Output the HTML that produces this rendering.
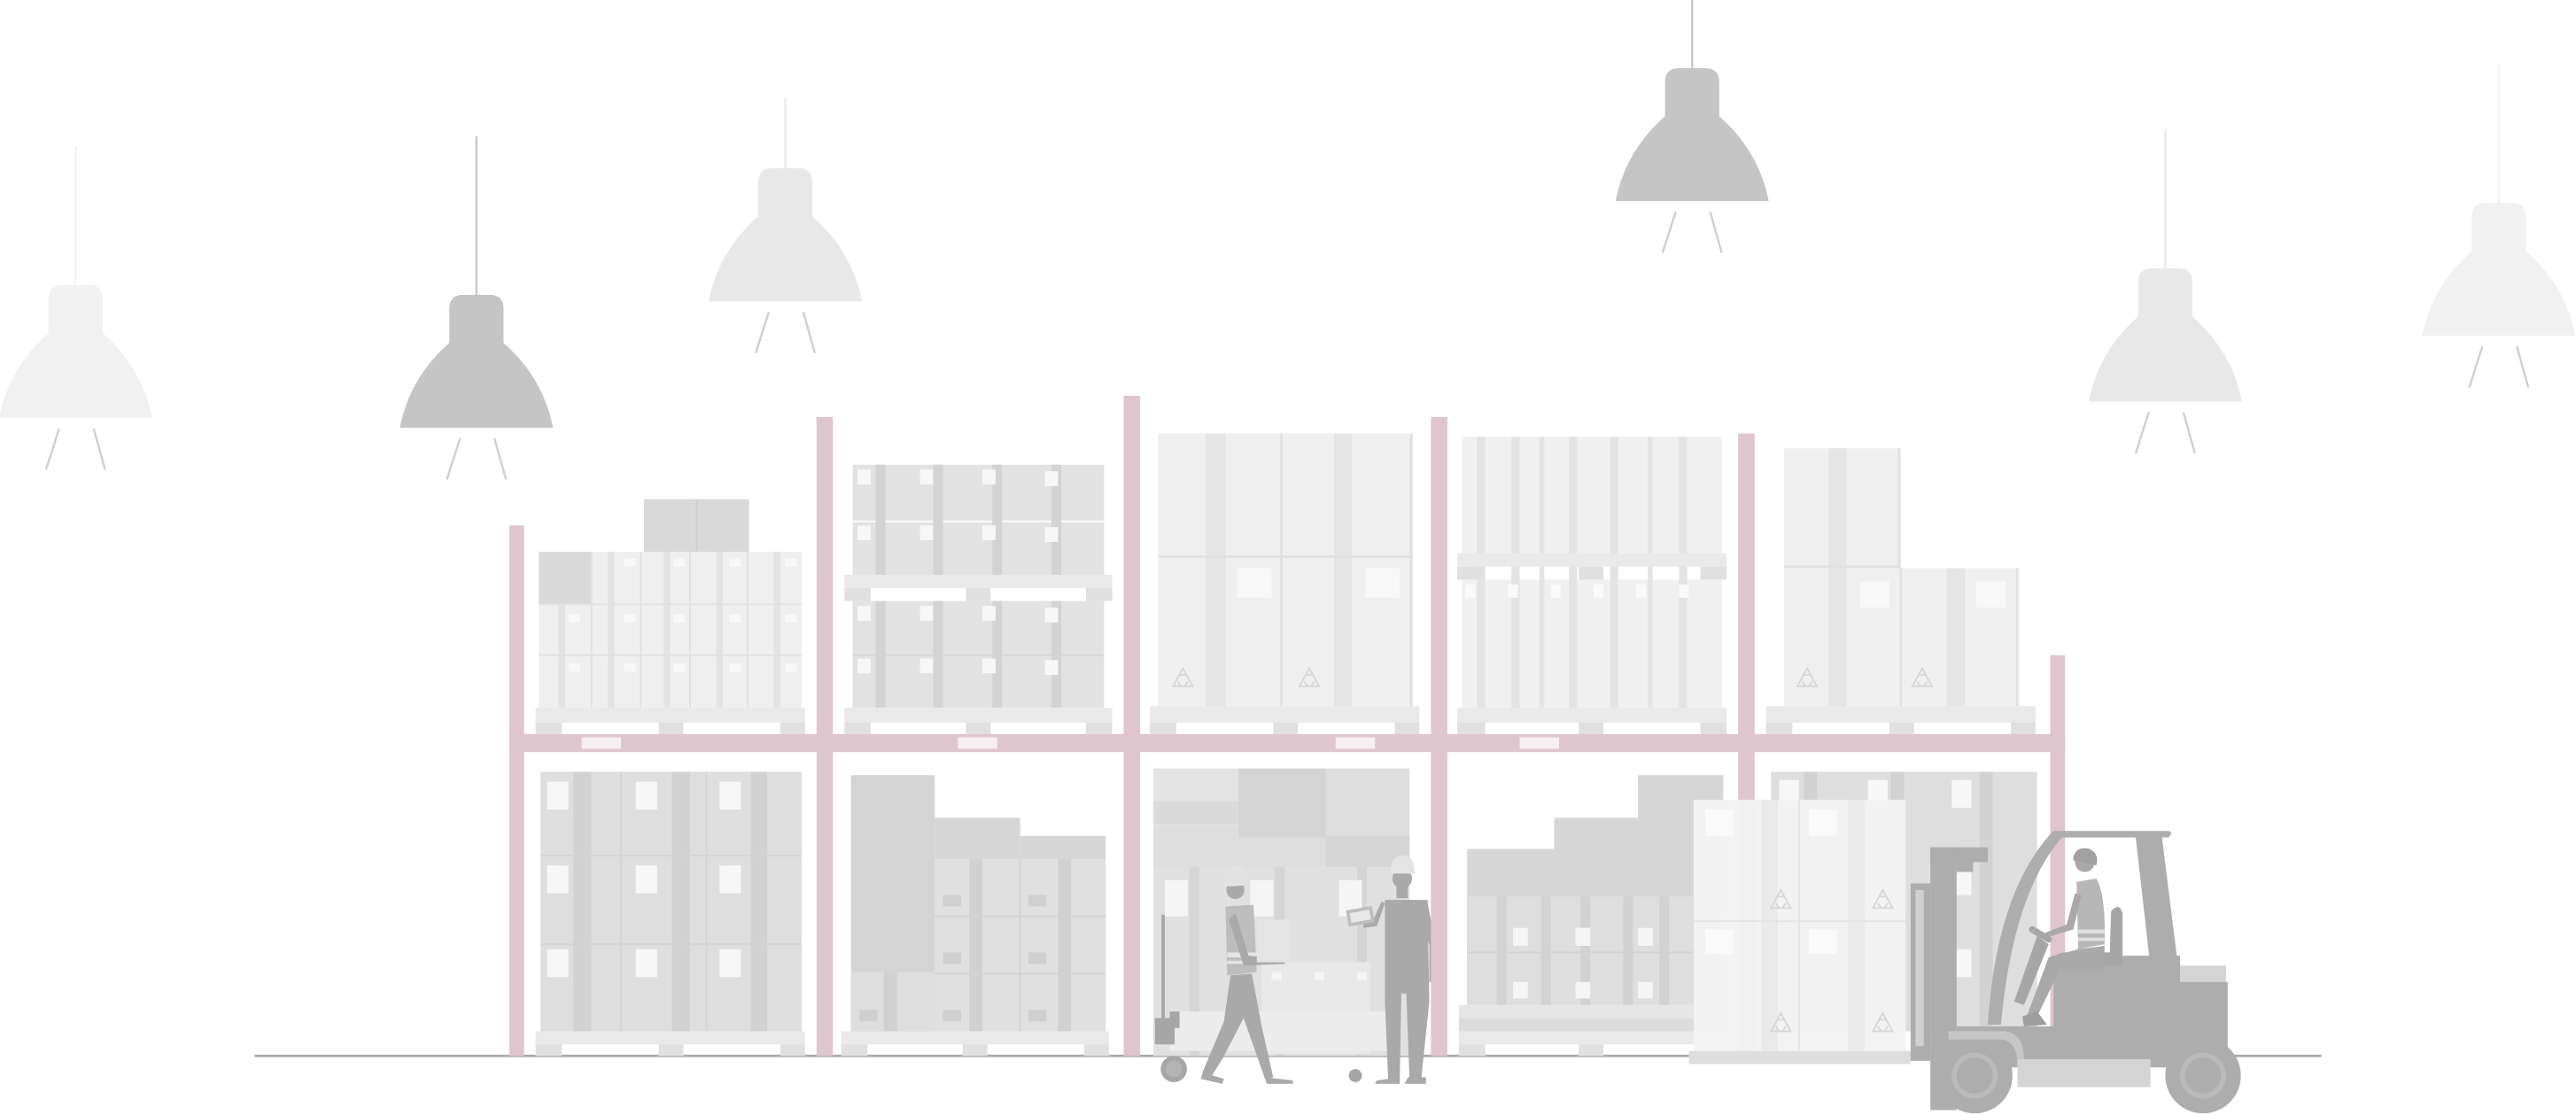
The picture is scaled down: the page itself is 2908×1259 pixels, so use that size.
<!DOCTYPE html>
<html><head><meta charset="utf-8"><style>html,body{margin:0;padding:0;background:#fff}svg{display:block}</style></head>
<body>
<svg width="2908" height="1259" viewBox="0 0 1568 679" preserveAspectRatio="none" xmlns="http://www.w3.org/2000/svg">
<defs>
<g id="lamp">
<line x1="0" y1="-400" x2="0" y2="-78" stroke-width="1.2"/>
<path d="M-16,-51 L-16,-72 Q-16,-80 -8,-80 L8,-80 Q16,-80 16,-72 L16,-51 Q40,-30 46,0 L-46,0 Q-40,-30 -16,-51 Z"/>
<line x1="-10" y1="7" x2="-18" y2="32" stroke="#cfcfcf" stroke-width="1.3"/>
<line x1="11" y1="7" x2="18" y2="32" stroke="#cfcfcf" stroke-width="1.3"/>
</g>
<g id="rec" fill="none" stroke="#d6d6d6" stroke-width="1">
<path d="M0,-7 L-6,4 L6,4 Z"/><path d="M-2,-3 L2,-3 M-3,1 L-1,4 M3,1 L1,4"/>
</g>
</defs>
<rect width="1568" height="679" fill="#fff"/>
<g fill="#f1f1f1" stroke="#f1f1f1"><use href="#lamp" x="46" y="254"/></g>
<g fill="#c5c5c5" stroke="#c5c5c5"><use href="#lamp" x="290" y="260"/></g>
<g fill="#e8e8e8" stroke="#e8e8e8"><use href="#lamp" x="478" y="183"/></g>
<g fill="#c5c5c5" stroke="#c5c5c5"><use href="#lamp" x="1030" y="122"/></g>
<g fill="#e8e8e8" stroke="#e8e8e8"><use href="#lamp" x="1318" y="244"/></g>
<g fill="#f1f1f1" stroke="#f1f1f1"><use href="#lamp" x="1521" y="204"/></g>
<g fill="#fff"><rect x="40" y="0" width="12" height="89"/><rect x="284" y="0" width="12" height="83"/><rect x="472" y="0" width="12" height="59"/><rect x="1312" y="0" width="12" height="79"/><rect x="1515" y="0" width="12" height="39"/></g>

<line x1="155" y1="643" x2="1413" y2="643" stroke="#aaaaaa" stroke-width="1.5"/>

<!-- UPPER BAY 1 -->
<rect x="392" y="304" width="64" height="32" fill="#d9d9d9"/><line x1="424" y1="304" x2="424" y2="336" stroke="#d0d0d0"/>
<rect x="328" y="336" width="160" height="95" fill="#efefef"/>
<rect x="328" y="336" width="32" height="32" fill="#d9d9d9"/>
<g fill="#e2e2e2"><rect x="340" y="368" width="4" height="63"/><rect x="370" y="336" width="4" height="95"/><rect x="404" y="336" width="4" height="95"/><rect x="436" y="336" width="4" height="95"/><rect x="471" y="336" width="4" height="95"/></g>
<g stroke="#e0e0e0"><line x1="328" y1="368" x2="488" y2="368"/><line x1="328" y1="399" x2="488" y2="399"/><line x1="360" y1="336" x2="360" y2="431"/><line x1="390" y1="336" x2="390" y2="431"/><line x1="420" y1="336" x2="420" y2="431"/><line x1="455" y1="336" x2="455" y2="431"/></g>
<g fill="#f8f8f8"><rect x="380" y="340" width="7" height="5"/><rect x="410" y="340" width="7" height="5"/><rect x="444" y="340" width="7" height="5"/><rect x="346" y="374" width="7" height="5"/><rect x="380" y="374" width="7" height="5"/><rect x="410" y="374" width="7" height="5"/><rect x="444" y="374" width="7" height="5"/><rect x="478" y="374" width="7" height="5"/><rect x="346" y="404" width="7" height="5"/><rect x="380" y="404" width="7" height="5"/><rect x="410" y="404" width="7" height="5"/><rect x="444" y="404" width="7" height="5"/><rect x="478" y="404" width="7" height="5"/><rect x="478" y="340" width="7" height="5"/></g>
<rect x="326" y="431" width="164" height="9" fill="#e9e9e9"/>
<g fill="#e0e0e0"><rect x="326" y="440" width="16" height="7"/><rect x="401" y="440" width="15" height="7"/><rect x="475" y="440" width="15" height="7"/></g>

<!-- UPPER BAY 2 -->
<rect x="519" y="283" width="153" height="67" fill="#e2e2e2"/>
<rect x="519" y="366" width="153" height="65" fill="#e2e2e2"/>
<line x1="519" y1="317.5" x2="672" y2="317.5" stroke="#fafafa" stroke-width="1.2"/>
<line x1="519" y1="399" x2="672" y2="399" stroke="#d8d8d8"/>
<g fill="#d3d3d3"><rect x="533" y="283" width="6" height="67"/><rect x="568" y="283" width="6" height="67"/><rect x="604" y="283" width="6" height="67"/><rect x="640" y="283" width="6" height="67"/><rect x="533" y="366" width="6" height="65"/><rect x="568" y="366" width="6" height="65"/><rect x="604" y="366" width="6" height="65"/><rect x="640" y="366" width="6" height="65"/></g>
<g fill="#f7f7f7"><rect x="522" y="286" width="8" height="9"/><rect x="560" y="286" width="8" height="9"/><rect x="598" y="286" width="8" height="9"/><rect x="636" y="287" width="8" height="9"/><rect x="522" y="320" width="8" height="9"/><rect x="560" y="320" width="8" height="9"/><rect x="598" y="320" width="8" height="9"/><rect x="636" y="321" width="8" height="9"/><rect x="522" y="369" width="8" height="9"/><rect x="560" y="369" width="8" height="9"/><rect x="598" y="369" width="8" height="9"/><rect x="636" y="370" width="8" height="9"/><rect x="522" y="401" width="8" height="9"/><rect x="560" y="401" width="8" height="9"/><rect x="598" y="401" width="8" height="9"/><rect x="636" y="402" width="8" height="9"/></g>
<rect x="514" y="350" width="163" height="8" fill="#e9e9e9"/>
<g fill="#e0e0e0"><rect x="514" y="358" width="16" height="8"/><rect x="588" y="358" width="15" height="8"/><rect x="661" y="358" width="16" height="8"/></g>
<rect x="514" y="431" width="163" height="9" fill="#e9e9e9"/>
<g fill="#e0e0e0"><rect x="514" y="440" width="16" height="7"/><rect x="588" y="440" width="15" height="7"/><rect x="661" y="440" width="16" height="7"/></g>

<!-- UPPER BAY 3 -->
<rect x="705" y="264" width="155" height="166" fill="#efefef"/>
<g fill="#e4e4e4"><rect x="734" y="264" width="12" height="166"/><rect x="812" y="264" width="11" height="166"/></g>
<g stroke="#e0e0e0" stroke-width="1.5"><line x1="705" y1="339" x2="860" y2="339"/><line x1="780" y1="264" x2="780" y2="430"/><line x1="859" y1="264" x2="859" y2="430"/></g>
<g fill="#f8f8f8"><rect x="753" y="346" width="21" height="18"/><rect x="831" y="346" width="21" height="18"/></g>
<use href="#rec" x="720" y="414"/><use href="#rec" x="797" y="414"/>
<rect x="700" y="430" width="164" height="10" fill="#e9e9e9"/>
<g fill="#e0e0e0"><rect x="700" y="440" width="16" height="7"/><rect x="775" y="440" width="15" height="7"/><rect x="849" y="440" width="15" height="7"/></g>

<!-- UPPER BAY 4 -->
<rect x="890" y="266" width="158" height="71" fill="#f0f0f0"/>
<rect x="890" y="353" width="158" height="78" fill="#f0f0f0"/>
<g fill="#e3e3e3"><rect x="899" y="266" width="5" height="165"/><rect x="920" y="266" width="5" height="165"/><rect x="937" y="266" width="3" height="165"/><rect x="955" y="266" width="5" height="165"/><rect x="980" y="266" width="5" height="165"/><rect x="1003" y="266" width="3" height="165"/><rect x="1022" y="266" width="5" height="165"/></g>
<g fill="#fafafa"><rect x="892" y="356" width="6" height="8"/><rect x="918" y="356" width="6" height="8"/><rect x="944" y="356" width="6" height="8"/><rect x="970" y="356" width="6" height="8"/><rect x="996" y="356" width="6" height="8"/><rect x="1022" y="356" width="6" height="8"/></g>
<rect x="887" y="337" width="164" height="8" fill="#e9e9e9"/>
<g fill="#e0e0e0"><rect x="887" y="345" width="17" height="8"/><rect x="961" y="345" width="15" height="8"/><rect x="1035" y="345" width="16" height="8"/></g>
<rect x="887" y="431" width="164" height="9" fill="#e9e9e9"/>
<g fill="#e0e0e0"><rect x="887" y="440" width="17" height="7"/><rect x="961" y="440" width="15" height="7"/><rect x="1035" y="440" width="16" height="7"/></g>

<!-- UPPER BAY 5 -->
<rect x="1086" y="273" width="71" height="157" fill="#efefef"/>
<rect x="1157" y="346" width="71" height="84" fill="#efefef"/>
<g fill="#e4e4e4"><rect x="1113" y="273" width="11" height="157"/><rect x="1185" y="346" width="11" height="84"/></g>
<g stroke="#e0e0e0" stroke-width="1.5"><line x1="1086" y1="345" x2="1157" y2="345"/><line x1="1157" y1="346" x2="1157" y2="430"/><line x1="1228" y1="346" x2="1228" y2="430"/><line x1="1156" y1="273" x2="1156" y2="346"/></g>
<g fill="#f8f8f8"><rect x="1132" y="354" width="18" height="16"/><rect x="1203" y="354" width="18" height="16"/></g>
<use href="#rec" x="1100" y="414"/><use href="#rec" x="1170" y="414"/>
<rect x="1075" y="430" width="164" height="10" fill="#e9e9e9"/>
<g fill="#e0e0e0"><rect x="1075" y="440" width="16" height="7"/><rect x="1150" y="440" width="15" height="7"/><rect x="1224" y="440" width="15" height="7"/></g>

<!-- LOWER BAY 1 -->
<rect x="329" y="470" width="159" height="158" fill="#dedede"/>
<g fill="#d2d2d2"><rect x="349" y="470" width="11" height="158"/><rect x="409" y="470" width="11" height="158"/><rect x="457" y="470" width="10" height="158"/></g>
<g stroke="#d4d4d4"><line x1="329" y1="521" x2="488" y2="521"/><line x1="329" y1="575" x2="488" y2="575"/><line x1="378" y1="470" x2="378" y2="628"/><line x1="430" y1="470" x2="430" y2="628"/></g>
<g fill="#f7f7f7"><rect x="333" y="476" width="13" height="17"/><rect x="387" y="476" width="13" height="17"/><rect x="438" y="476" width="13" height="17"/><rect x="333" y="527" width="13" height="17"/><rect x="387" y="527" width="13" height="17"/><rect x="438" y="527" width="13" height="17"/><rect x="333" y="578" width="13" height="17"/><rect x="387" y="578" width="13" height="17"/><rect x="438" y="578" width="13" height="17"/></g>
<rect x="326" y="628" width="164" height="8" fill="#e9e9e9"/>
<g fill="#e0e0e0"><rect x="326" y="636" width="16" height="7"/><rect x="401" y="636" width="15" height="7"/><rect x="475" y="636" width="15" height="7"/></g>

<!-- LOWER BAY 2 -->
<rect x="518" y="472" width="51" height="156" fill="#d4d4d4"/>
<rect x="569" y="498" width="52" height="130" fill="#d6d6d6"/>
<rect x="621" y="509" width="52" height="119" fill="#d6d6d6"/>
<rect x="569" y="523" width="104" height="105" fill="#e0e0e0"/>
<rect x="518" y="592" width="51" height="36" fill="#dedede"/>
<g fill="#d0d0d0"><rect x="538" y="592" width="8" height="36"/><rect x="590" y="523" width="8" height="105"/><rect x="644" y="523" width="8" height="105"/></g>
<g stroke="#d2d2d2"><line x1="569" y1="558" x2="673" y2="558"/><line x1="569" y1="593" x2="673" y2="593"/><line x1="621" y1="523" x2="621" y2="628"/></g>
<g fill="#cfcfcf"><rect x="574" y="545" width="11" height="7"/><rect x="626" y="545" width="11" height="7"/><rect x="574" y="580" width="11" height="7"/><rect x="626" y="580" width="11" height="7"/><rect x="523" y="615" width="11" height="7"/><rect x="574" y="615" width="11" height="7"/><rect x="626" y="615" width="11" height="7"/></g>
<rect x="512" y="628" width="163" height="8" fill="#e9e9e9"/>
<g fill="#e0e0e0"><rect x="512" y="636" width="16" height="7"/><rect x="586" y="636" width="15" height="7"/><rect x="660" y="636" width="15" height="7"/></g>

<!-- LOWER BAY 3 -->
<rect x="702" y="468" width="156" height="60" fill="#dedede"/>
<rect x="702" y="468" width="52" height="35" fill="#e3e3e3"/>
<rect x="702" y="488" width="52" height="14" fill="#dadada"/>
<rect x="754" y="468" width="53" height="42" fill="#d4d4d4"/>
<rect x="807" y="509" width="51" height="20" fill="#d6d6d6"/>
<rect x="702" y="528" width="156" height="115" fill="#e0e0e0"/>
<g fill="#d5d5d5"><rect x="724" y="528" width="6" height="115"/><rect x="776" y="528" width="6" height="115"/><rect x="826" y="528" width="6" height="115"/></g>
<g fill="#f5f5f5"><rect x="709" y="536" width="14" height="22"/><rect x="761" y="536" width="14" height="22"/><rect x="815" y="536" width="14" height="22"/></g>
<rect x="768" y="586" width="66" height="56" fill="#e8e8e8"/>
<g fill="#f5f5f5"><rect x="774" y="592" width="6" height="5"/><rect x="800" y="592" width="6" height="5"/><rect x="826" y="592" width="6" height="5"/><rect x="774" y="618" width="6" height="5"/><rect x="800" y="618" width="6" height="5"/></g>
<rect x="712" y="616" width="134" height="24" fill="#ececec"/>
<line x1="708" y1="557" x2="708" y2="630" stroke="#a6a6a6" stroke-width="2"/>
<rect x="703" y="620" width="12" height="16" fill="#a6a6a6"/>
<rect x="712" y="616" width="6" height="10" fill="#a6a6a6"/>
<circle cx="714.5" cy="651" r="8" fill="#a6a6a6"/><circle cx="714.5" cy="651" r="5" fill="#b4b4b4"/>
<circle cx="825" cy="655" r="4" fill="#a6a6a6"/>
<!-- worker 1 -->
<g fill="#a9a9a9">
<circle cx="752" cy="542" r="5.5"/>
<path d="M746,552 L763,551 L765,592 L747,594 Z" fill="#bdbdbd"/>
<rect x="747" y="580" width="18" height="3" fill="#e4e4e4"/>
<rect x="747" y="585" width="18" height="2" fill="#e4e4e4"/>
<path d="M749,594 L762,593 L768,625 L775,656 L770,657 L757,620 L744,645 L737,656 L732,653 L745,622 Z"/>
<path d="M770,656 L787,658 L787,660 L771,660 Z"/><path d="M732,653 L745,657 L744,660 L731,657 Z"/>
<path d="M752,556 L760,582 L782,584 L782,587 L757,588 L748,560 Z"/>
</g>
<path d="M745,539 Q746,527 753,527 Q760,527 760,538 L762,539 L744,540 Z" fill="#e2e2e2"/>
<rect x="765" y="560" width="20" height="26" fill="#e4e4e4"/>
<!-- worker 2 -->
<g fill="#a9a9a9">
<circle cx="853.5" cy="535" r="6"/>
<rect x="850" y="539" width="7" height="8"/>
<path d="M843,548 L869,548 L870,610 L865,658 L858,658 L856,605 L853,605 L852,658 L845,658 L843,610 Z"/>
<path d="M838,658 L852,656 L852,660 L837,660 Z"/><path d="M857,656 L868,656 L868,660 L855,660 Z"/>
<path d="M869,550 L874,576 L872,598 L870,598 L870,576 L866,555 Z"/>
<path d="M843,550 L838,564 L830,565 L830,561 L836,560 L841,549 Z"/>
</g>
<path d="M846,531 Q847,521 854,521 Q861,521 861,531 L863,532 L845,532 Z" fill="#e4e4e4"/>
<rect x="820" y="553" width="16" height="10" fill="#bdbdbd" transform="rotate(-10 828 558)"/>
<rect x="822" y="555" width="12" height="6" fill="#e8e8e8" transform="rotate(-10 828 558)"/>

<!-- LOWER BAY 4 -->
<rect x="893" y="517" width="53" height="95" fill="#d6d6d6"/>
<rect x="946" y="498" width="51" height="114" fill="#d6d6d6"/>
<rect x="997" y="472" width="52" height="140" fill="#d6d6d6"/>
<rect x="893" y="546" width="156" height="66" fill="#dedede"/>
<g fill="#d2d2d2"><rect x="911" y="546" width="6" height="66"/><rect x="938" y="546" width="6" height="66"/><rect x="962" y="546" width="6" height="66"/><rect x="988" y="546" width="6" height="66"/><rect x="1010" y="546" width="6" height="66"/></g>
<line x1="893" y1="580" x2="1049" y2="580" stroke="#d2d2d2"/>
<g fill="#f5f5f5"><rect x="921" y="565" width="9" height="11"/><rect x="959" y="565" width="9" height="11"/><rect x="997" y="565" width="9" height="11"/><rect x="921" y="598" width="9" height="10"/><rect x="959" y="598" width="9" height="10"/><rect x="997" y="598" width="9" height="10"/></g>
<rect x="888" y="612" width="163" height="8" fill="#e6e6e6"/>
<rect x="888" y="620" width="163" height="8" fill="#dcdcdc"/>
<rect x="888" y="628" width="163" height="8" fill="#e9e9e9"/>
<g fill="#e0e0e0"><rect x="888" y="636" width="16" height="7"/><rect x="961" y="636" width="15" height="7"/></g>

<!-- LOWER BAY 5 -->
<rect x="1078" y="470" width="162" height="158" fill="#dedede"/>
<g fill="#d2d2d2"><rect x="1098" y="470" width="8" height="158"/><rect x="1151" y="470" width="8" height="158"/><rect x="1205" y="470" width="8" height="158"/></g>
<g fill="#f7f7f7"><rect x="1083" y="475" width="12" height="17"/><rect x="1137" y="475" width="12" height="17"/><rect x="1188" y="475" width="12" height="17"/><rect x="1188" y="528" width="12" height="17"/><rect x="1188" y="578" width="12" height="17"/></g>

<!-- RACK -->
<g fill="#dfc5ce">
<rect x="310" y="320" width="9" height="323"/>
<rect x="497" y="254" width="10" height="389"/>
<rect x="684" y="241" width="10" height="402"/>
<rect x="871" y="254" width="10" height="389"/>
<rect x="1058" y="264" width="10" height="379"/>
<rect x="1248" y="399" width="9" height="244"/>
<rect x="310" y="447" width="947" height="11"/>
</g>
<g fill="#f6eef0"><rect x="354" y="449" width="24" height="7"/><rect x="583" y="449" width="24" height="7"/><rect x="813" y="449" width="24" height="7"/><rect x="925" y="449" width="24" height="7"/></g>

<!-- WRAPPED PALLET -->
<rect x="1031" y="487" width="129" height="153" fill="#f3f3f3" opacity="0.96"/>
<g fill="#e6e6e6" opacity="0.8"><rect x="1072" y="487" width="10" height="153"/><rect x="1125" y="487" width="10" height="153"/></g>
<g stroke="#e4e4e4"><line x1="1031" y1="561" x2="1160" y2="561"/><line x1="1095" y1="487" x2="1095" y2="640"/></g>
<g fill="#fafafa"><rect x="1038" y="493" width="17" height="16"/><rect x="1101" y="493" width="17" height="16"/><rect x="1038" y="566" width="17" height="15"/><rect x="1101" y="566" width="17" height="15"/></g>
<use href="#rec" x="1084" y="549"/><use href="#rec" x="1146" y="549"/><use href="#rec" x="1084" y="624"/><use href="#rec" x="1146" y="624"/>
<rect x="1028" y="640" width="135" height="8" fill="#dedede"/>

<!-- FORKLIFT -->
<g fill="#adadad">
<rect x="1163" y="538" width="12" height="108"/>
<rect x="1166" y="542" width="5" height="95" fill="#d0d0d0"/>
<rect x="1175" y="516" width="35" height="9"/>
<rect x="1175" y="516" width="16" height="160"/>
<rect x="1191" y="525" width="10" height="6"/>
<rect x="1327" y="588" width="28" height="40" fill="#d4d4d4"/>
<path d="M1250,506 L1320,506 Q1323,507 1320,510 L1316,510 L1327,598 L1327,630 L1310,630 L1310,598 L1300,510 L1255,510 Q1225,545 1218,624 L1210,624 Q1215,545 1248,508 Z"/>
<rect x="1250" y="582" width="77" height="44"/>
<path d="M1250,586 Q1250,580 1258,580 L1285,580 L1285,588 L1258,590 Z" fill="#a6a6a6"/>
<path d="M1285,555 Q1290,549 1292,556 L1292,588 L1284,588 Z" fill="#a6a6a6"/>
<path d="M1191,625 L1300,625 L1327,598 L1356,598 L1356,650 L1191,650 Z"/>
<rect x="1228" y="645" width="81" height="17" fill="#d4d4d4"/>
<circle cx="1202" cy="655" r="23"/><circle cx="1202" cy="655" r="14" fill="#bababa"/><circle cx="1202" cy="655" r="11" fill="#adadad"/>
<circle cx="1341" cy="655" r="23"/><circle cx="1341" cy="655" r="14" fill="#bababa"/><circle cx="1341" cy="655" r="11" fill="#adadad"/>
</g>
<path d="M1186,628 L1221,628 Q1232,630 1232,645 L1228,645 Q1226,633 1218,633 L1186,633 Z" fill="#c6c6c6"/>
<g fill="#a9a9a9">
<circle cx="1269" cy="525" r="6"/>
<path d="M1262,522 Q1264,515 1272,517 Q1278,520 1276,527 L1262,524 Z" fill="#a0a0a0"/>
<path d="M1264,537 L1276,535 Q1282,545 1281,575 L1265,578 Z" fill="#b6b6b6"/>
<rect x="1265" y="566" width="16" height="2.5" fill="#e0e0e0"/><rect x="1265" y="571" width="16" height="2" fill="#e0e0e0"/>
<path d="M1267,545 L1262,566 L1245,571 L1245,568 L1258,563 L1263,544 Z"/>
<path d="M1265,578 L1281,576 L1281,590 L1254,590 L1240,619 L1234,618 L1247,583 Z"/>
<path d="M1231,619 L1240,616 L1246,624 L1232,625 Z" fill="#9e9e9e"/>
</g>
<line x1="1237" y1="566" x2="1247" y2="572" stroke="#a6a6a6" stroke-width="4" stroke-linecap="round"/>
<path d="M1240,570 L1226,610 L1232,612 L1247,575 Z" fill="#a6a6a6"/>
</svg>
</body></html>
